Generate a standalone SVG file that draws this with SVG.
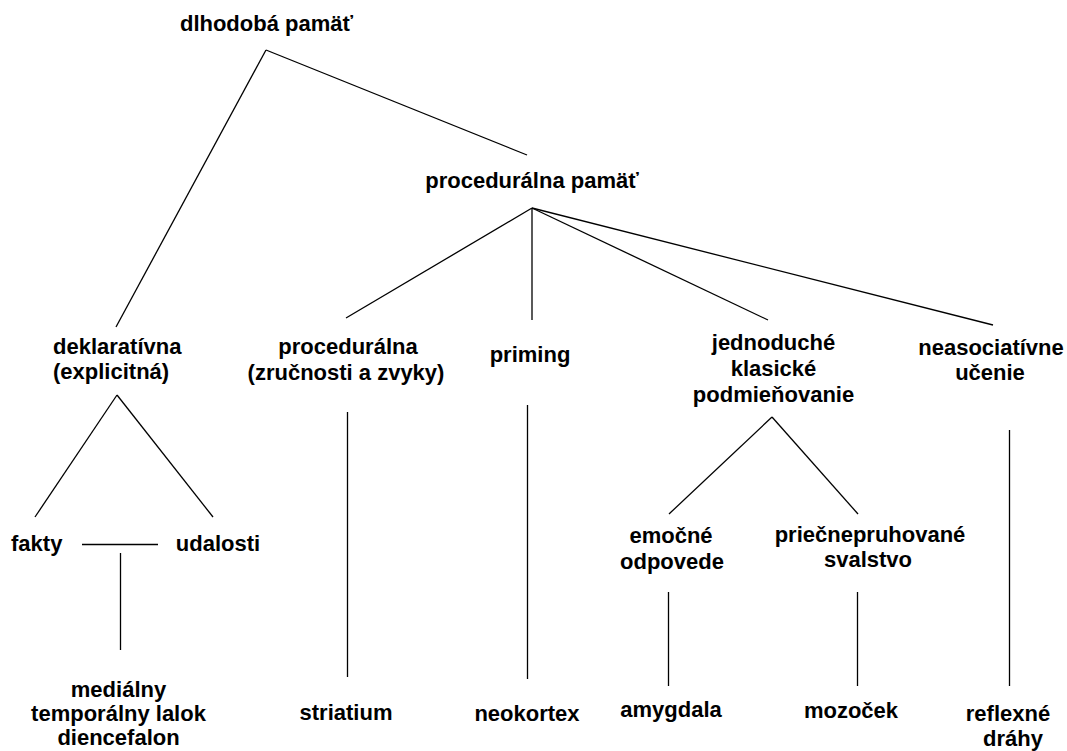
<svg xmlns="http://www.w3.org/2000/svg" width="1067" height="751" viewBox="0 0 1067 751">
<style>
text{font-family:"Liberation Sans",Arial,sans-serif;font-weight:bold;font-size:22px;fill:#000;text-anchor:middle}
.l{text-anchor:start}
line{stroke:#000;stroke-width:1.3;fill:none}
</style>
<rect width="1067" height="751" fill="#fff"/>
<g id="connectors">
<line x1="266" y1="50" x2="116" y2="327"/>
<line x1="266" y1="50" x2="527" y2="155"/>
<line x1="532" y1="208" x2="346" y2="318"/>
<line x1="532" y1="208" x2="532" y2="320"/>
<line x1="532" y1="208" x2="768" y2="320"/>
<line x1="532" y1="208" x2="993" y2="325"/>
<line x1="117" y1="395" x2="35" y2="517"/>
<line x1="117" y1="395" x2="213" y2="517"/>
<line x1="82" y1="544.5" x2="158" y2="544.5"/>
<line x1="120.5" y1="553" x2="120.5" y2="650"/>
<line x1="347.5" y1="412" x2="347.5" y2="677"/>
<line x1="527.5" y1="405" x2="527.5" y2="679"/>
<line x1="772" y1="417" x2="669" y2="514"/>
<line x1="772" y1="417" x2="858" y2="514"/>
<line x1="668.5" y1="592" x2="668.5" y2="686"/>
<line x1="857.5" y1="592" x2="857.5" y2="686"/>
<line x1="1009.5" y1="430" x2="1009.5" y2="686"/>
</g>
<g id="dlhodoba"><text x="266.5" y="31">dlhodobá pamäť</text></g>
<g id="proceduralna-pamat"><text x="532" y="188">procedurálna pamäť</text></g>
<g id="deklarativna"><text class="l" x="53" y="354">deklaratívna</text><text class="l" x="53" y="379">(explicitná)</text></g>
<g id="proceduralna"><text x="348" y="354">procedurálna</text><text x="346" y="380">(zručnosti a zvyky)</text></g>
<g id="priming"><text x="530" y="362">priming</text></g>
<g id="jednoduche"><text x="773.5" y="350">jednoduché</text><text x="773.5" y="376">klasické</text><text x="773.5" y="402">podmieňovanie</text></g>
<g id="neasociativne"><text x="991" y="355">neasociatívne</text><text x="990" y="380">učenie</text></g>
<g id="fakty"><text x="36.7" y="551">fakty</text></g>
<g id="udalosti"><text x="218" y="551">udalosti</text></g>
<g id="emocne"><text x="671" y="543">emočné</text><text x="672" y="569">odpovede</text></g>
<g id="priecnepruhovane"><text x="870" y="542">priečnepruhované</text><text x="868" y="567">svalstvo</text></g>
<g id="medialny"><text x="118.5" y="697">mediálny</text><text x="118.5" y="721">temporálny lalok</text><text x="118.5" y="745">diencefalon</text></g>
<g id="striatium"><text x="346" y="720">striatium</text></g>
<g id="neokortex"><text x="527" y="721">neokortex</text></g>
<g id="amygdala"><text x="671" y="717">amygdala</text></g>
<g id="mozocek"><text x="851" y="718">mozoček</text></g>
<g id="reflexne"><text x="1008" y="721">reflexné</text><text x="1013" y="746">dráhy</text></g>
</svg>
